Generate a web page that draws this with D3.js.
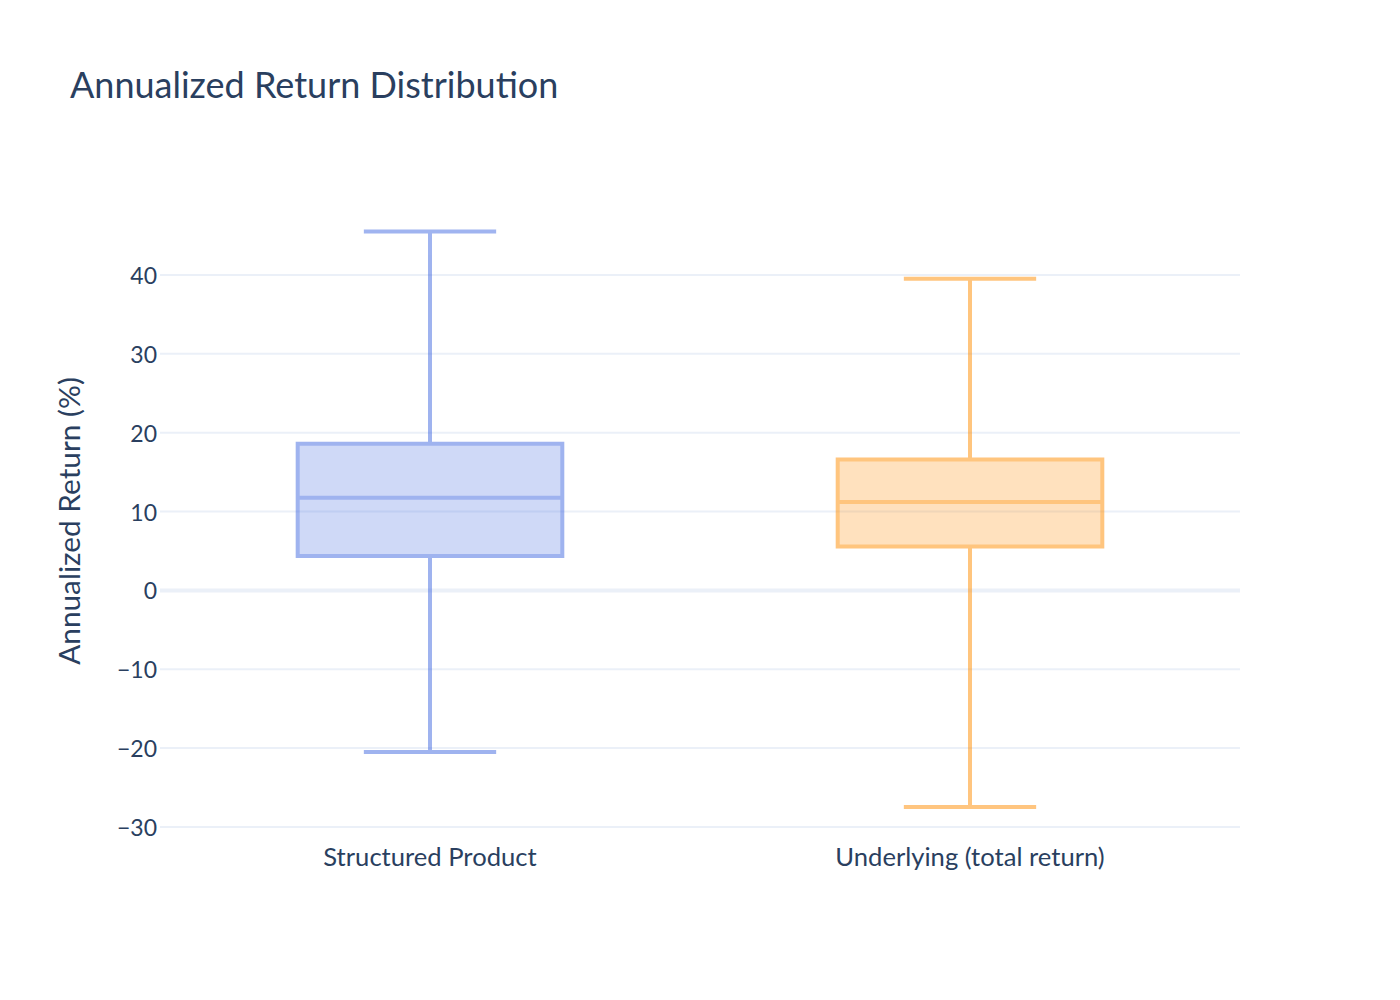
<!DOCTYPE html>
<html>
<head>
<meta charset="utf-8">
<script src="https://cdn.jsdelivr.net/npm/d3@7"></script>
<style>
  html, body { margin: 0; padding: 0; background: #fff; }
  svg { display: block; }
</style>
</head>
<body>
<svg id="chart" width="1400" height="1000"></svg>
<script>
// ---- data ----
const categories = ["Structured Product", "Underlying (total return)"];
const lowerWhisker = [-20.5, -27.45];
const q1 = [4.35, 5.55];
const median = [11.75, 11.2];
const q3 = [18.6, 16.6];
const upperWhisker = [45.5, 39.5];
const colors = ["#4169e1", "#ff8c00"];
const yTicks = [-30, -20, -10, 0, 10, 20, 30, 40];
const yDomain = [-31.65, 49.5];

// ---- layout ----
const W = 1400, H = 1000;
const m = { l: 160, r: 160, t: 200, b: 160 };
const font = "'Lato', 'Noto Sans', sans-serif";
const textColor = "#2a3f5f";
const gridColor = "#ebf0f8";

const svg = d3.select("#chart");
svg.append("rect").attr("width", W).attr("height", H).attr("fill", "#fff");

const x = d3.scaleBand().domain(categories).range([m.l, W - m.r]).padding(0);
const y = d3.scaleLinear().domain(yDomain).range([H - m.b, m.t]);

// grid
const grid = svg.append("g");
grid.selectAll("line").data(yTicks).join("line")
  .attr("x1", m.l).attr("x2", W - m.r)
  .attr("y1", d => y(d)).attr("y2", d => y(d))
  .attr("stroke", gridColor)
  .attr("stroke-width", d => d === 0 ? 4 : 2);

// y tick labels
svg.append("g").selectAll("text").data(yTicks).join("text")
  .attr("x", m.l - 3).attr("y", d => y(d) + 9)
  .attr("text-anchor", "end")
  .attr("font-family", font).attr("font-size", 23).attr("fill", textColor)
  .text(d => d < 0 ? "\u2212" + Math.abs(d) : d);

// x tick labels
svg.append("g").selectAll("text").data(categories).join("text")
  .attr("x", d => x(d) + x.bandwidth() / 2).attr("y", 866)
  .attr("text-anchor", "middle")
  .attr("font-family", font).attr("font-size", 25.6).attr("fill", textColor)
  .text(d => d);

// boxes
const boxW = x.bandwidth() * 0.49;
const capW = boxW * 0.5;
categories.forEach((c, i) => {
  const cx = x(c) + x.bandwidth() / 2;
  const g = svg.append("g").attr("opacity", 0.5);
  const col = colors[i];
  g.append("rect")
    .attr("x", cx - boxW / 2).attr("width", boxW)
    .attr("y", y(q3[i])).attr("height", y(q1[i]) - y(q3[i]))
    .attr("fill", col).attr("fill-opacity", 0.5);
  const p = d3.path();
  // box outline
  p.moveTo(cx - boxW / 2, y(q1[i])); p.lineTo(cx + boxW / 2, y(q1[i]));
  p.lineTo(cx + boxW / 2, y(q3[i])); p.lineTo(cx - boxW / 2, y(q3[i])); p.closePath();
  // median
  p.moveTo(cx - boxW / 2, y(median[i])); p.lineTo(cx + boxW / 2, y(median[i]));
  // whiskers
  p.moveTo(cx, y(q3[i])); p.lineTo(cx, y(upperWhisker[i]));
  p.moveTo(cx, y(q1[i])); p.lineTo(cx, y(lowerWhisker[i]));
  // caps
  p.moveTo(cx - capW / 2, y(upperWhisker[i])); p.lineTo(cx + capW / 2, y(upperWhisker[i]));
  p.moveTo(cx - capW / 2, y(lowerWhisker[i])); p.lineTo(cx + capW / 2, y(lowerWhisker[i]));
  g.append("path").attr("d", p.toString())
    .attr("fill", "none").attr("stroke", col).attr("stroke-width", 4);
});

// y axis title
svg.append("text")
  .attr("transform", `translate(80, ${(m.t + H - m.b) / 2 + 1}) rotate(-90)`)
  .attr("text-anchor", "middle")
  .attr("font-family", font).attr("font-size", 29.8).attr("fill", textColor)
  .text("Annualized Return (%)");

// title
svg.append("text")
  .attr("x", 70).attr("y", 98)
  .attr("font-family", font).attr("font-size", 36).attr("fill", textColor)
  .text("Annualized Return Distribution");
</script>
</body>
</html>
